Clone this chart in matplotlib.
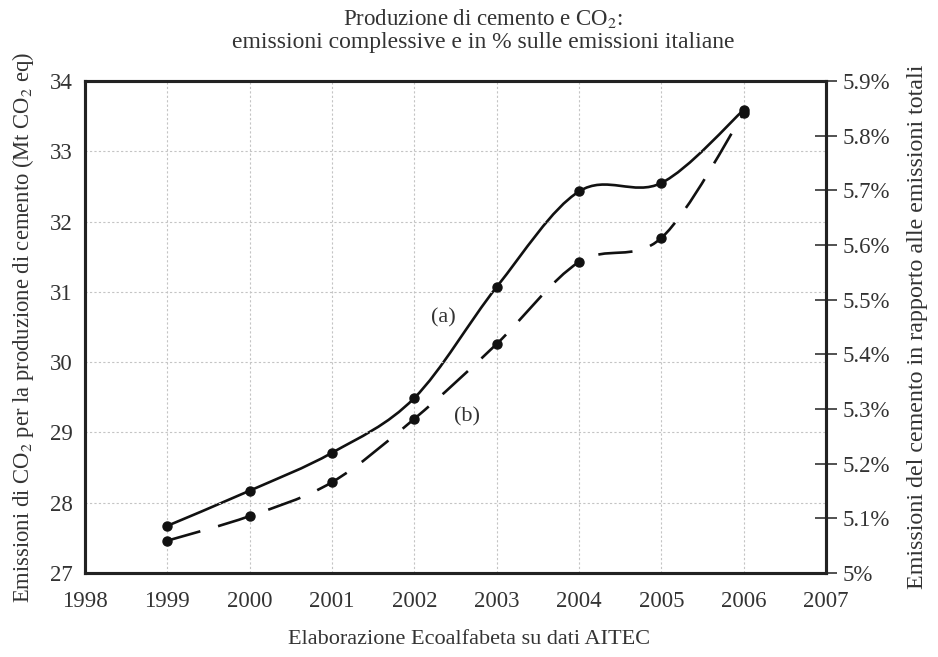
import numpy as np
import matplotlib
matplotlib.use("Agg")
import matplotlib.pyplot as plt
from matplotlib.path import Path
from matplotlib.patches import PathPatch
from matplotlib.ticker import FuncFormatter

# data
years = [1999, 2000, 2001, 2002, 2003, 2004, 2005, 2006]
emissioni_mt = [27.67, 28.17, 28.71, 29.49, 31.07, 32.43, 32.55, 33.59]      # (a) left axis
quota_pct = [5.059, 5.104, 5.166, 5.282, 5.419, 5.569, 5.613, 5.841]          # (b) right axis

plt.rcParams['font.family'] = ['Liberation Serif', 'DejaVu Serif']
plt.rcParams['mathtext.fontset'] = 'stix'
txt = '#333333'


def smooth_path(xs, ys):
    # Catmull-Rom spline turned into cubic bezier segments (like a "smoothed line")
    pts = np.column_stack([xs, ys]).astype(float)
    ext = np.vstack([pts[0], pts, pts[-1]])
    verts = [pts[0]]
    codes = [Path.MOVETO]
    for i in range(1, len(ext) - 2):
        p0, p1, p2, p3 = ext[i - 1], ext[i], ext[i + 1], ext[i + 2]
        verts += [p1 + (p2 - p0) / 6, p2 - (p3 - p1) / 6, p2]
        codes += [Path.CURVE4] * 3
    return Path(verts, codes)


fig = plt.figure(figsize=(9.38, 6.57), dpi=100)
ax = fig.add_axes([0.0906, 0.128, 0.790, 0.7485])
ax2 = ax.twinx()

ax.set_xlim(1998, 2007)
ax.set_ylim(27, 34)
ax2.set_ylim(5.0, 5.9)

# (a) solid line on left axis
ax.add_patch(PathPatch(smooth_path(years, emissioni_mt), fill=False, lw=1.9, ec='#111111',
                       capstyle='round'))
ax.plot(years, emissioni_mt, 'o', color='#111111', ms=6.5)

# (b) dashed line on right axis
ax2.add_patch(PathPatch(smooth_path(years, quota_pct), fill=False, lw=1.9, ec='#111111',
                        linestyle=(0, (13, 7))))
ax2.plot(years, quota_pct, 'o', color='#111111', ms=6.5)

ax.text(2002.35, 30.63, '(a)', fontsize=16, color=txt, ha='center', va='center')
ax.text(2002.64, 29.22, '(b)', fontsize=16, color=txt, ha='center', va='center')

# axes / ticks
ax.set_xticks(range(1998, 2008))
ax.set_yticks(range(27, 35))
ax.grid(True, color='#c4c4c4', lw=0.8, linestyle=(0, (2, 2)))
ax.tick_params(axis='both', length=0, labelsize=16.5, labelcolor=txt)
ax.tick_params(axis='x', pad=13)
ax.tick_params(axis='y', pad=9)

ax2.set_yticks(np.arange(5.0, 5.95, 0.1))
ax2.yaxis.set_major_formatter(FuncFormatter(lambda v, p: '5%' if abs(v - 5) < 1e-6 else f'{v:.1f}%'))
ax2.tick_params(axis='y', direction='inout', length=16, width=1.2, color='#333333',
                labelsize=16.5, labelcolor=txt, pad=4)

for a in (ax, ax2):
    for s in a.spines.values():
        s.set_linewidth(2.2)
        s.set_color('#222222')

ax.set_ylabel('Emissioni di CO$_2$ per la produzione di cemento (Mt CO$_2$ eq)',
              fontsize=16.3, color=txt, labelpad=10)
ax2.set_ylabel('Emissioni del cemento in rapporto alle emissioni totali',
               fontsize=17.3, color=txt, labelpad=12)

fig.text(0.515, 0.972, 'Produzione di cemento e CO$_2$:', fontsize=16.5, color=txt,
         ha='center', va='center')
fig.text(0.515, 0.935, 'emissioni complessive e in % sulle emissioni italiane', fontsize=17,
         color=txt, ha='center', va='center')
fig.text(0.50, 0.026, 'Elaborazione Ecoalfabeta su dati AITEC', fontsize=16, color=txt,
         ha='center', va='center')

plt.savefig('out.png', dpi=100)
